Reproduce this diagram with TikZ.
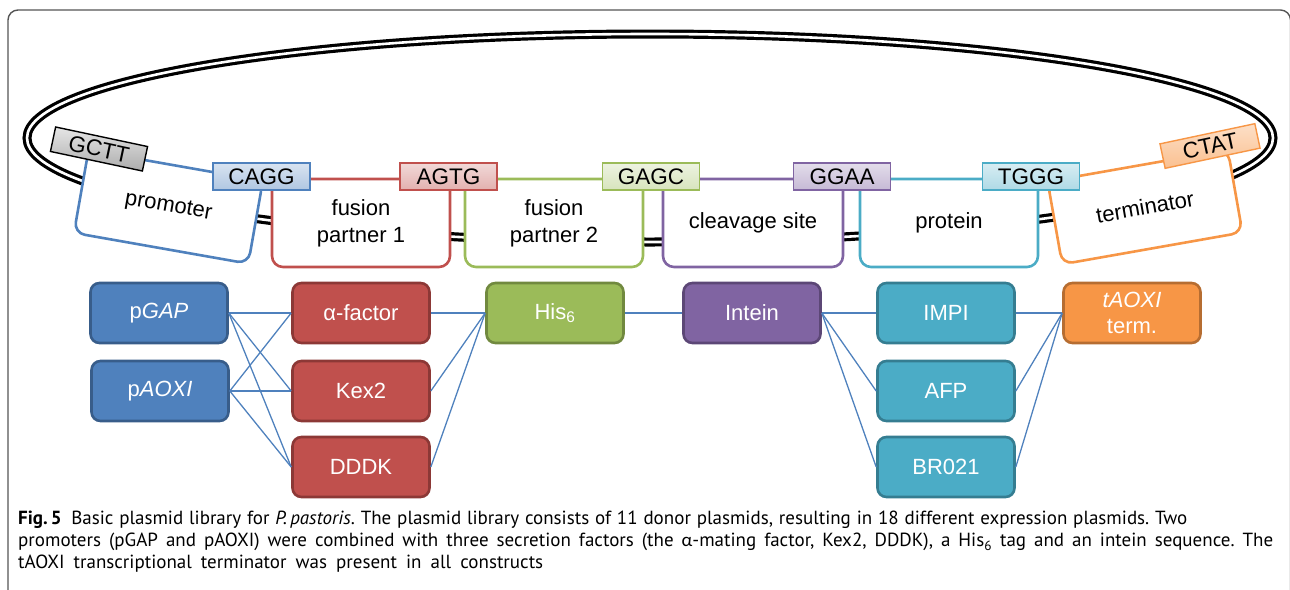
\documentclass[tikz,border=0pt]{standalone}
\usepackage{fontspec}
\setmainfont{Liberation Sans}
\newfontfamily\capfont{PT Sans}
\newfontfamily\grkfont{Carlito}
\frenchspacing

\definecolor{oBlue}{HTML}{4F81BD}
\definecolor{oBlueD}{HTML}{385D8A}
\definecolor{oRed}{HTML}{C0504D}
\definecolor{oRedD}{HTML}{8C3836}
\definecolor{oGreen}{HTML}{9BBB59}
\definecolor{oGreenD}{HTML}{71893F}
\definecolor{oPurple}{HTML}{8064A2}
\definecolor{oPurpleD}{HTML}{5C4776}
\definecolor{oTeal}{HTML}{4BACC6}
\definecolor{oTealD}{HTML}{357D91}
\definecolor{oOrange}{HTML}{F79646}
\definecolor{oOrangeD}{HTML}{B66D31}
\definecolor{frameGray}{HTML}{555555}

% one caption line spread to a given width
\newcommand\capline[2]{\makebox[#1][s]{#2}}

\tikzset{
  frame/.style={draw=frameGray, line width=1.4pt, rounded corners=10pt},
  backbone/.style={draw=black, line width=3.2pt, double=white, double distance=2.6pt},
  module/.style={draw, fill=white, line width=2.6pt, rounded corners=11pt,
    minimum width=178pt, minimum height=88pt, inner sep=0pt, align=center,
    font=\fontsize{22}{27}\selectfont},
  site/.style={draw, line width=1.4pt, minimum width=97pt, minimum height=27pt,
    inner sep=0pt, font=\fontsize{22.5}{26}\selectfont},
  part/.style={line width=2.6pt, rounded corners=9pt, minimum width=137pt,
    minimum height=60pt, inner sep=0pt, align=center, text=white,
    font=\fontsize{22}{26}\selectfont},
  link/.style={draw=oBlue, line width=1.3pt},
}

\begin{document}
\begin{tikzpicture}[x=1pt, y=-1pt]
\useasboundingbox (0,0) rectangle (1290,589);
\clip (0,0) rectangle (1290,589);

% outer figure frame (open at the bottom of the page)
\draw[frame] (8,10) rectangle (1290.5,660);

% plasmid backbone
\draw[backbone] (650,138) ellipse [x radius=623, y radius=104];

% expression cassette modules
\node[module, draw=oBlue, rotate=-10, minimum width=177pt, minimum height=84pt] (prom) at (168.4,206.9) {promoter};
\node[module, draw=oRed] (fp1) at (361,223) {fusion\\partner 1};
\node[module, draw=oGreen] (fp2) at (554,223) {fusion\\partner 2};
\node[module, draw=oPurple, minimum width=180pt] (cleave) at (753,223) {cleavage site};
\node[module, draw=oTeal] (prot) at (949,223) {protein};
\node[module, draw=oOrange, rotate=10, minimum width=183pt, minimum height=84pt] (term) at (1145,207) {terminator};

% overhang sites
\node[site, draw=black, top color=gray!20, bottom color=gray!65, rotate=-12,
      minimum width=94pt, minimum height=25pt] (gctt) at (99,149) {GCTT};
\node[site, draw=oBlue, top color=oBlue!22, bottom color=oBlue!45] (cagg) at (261.5,176.5) {CAGG};
\node[site, draw=oRed, top color=oRed!22, bottom color=oRed!45] (agtg) at (448.5,176.5) {AGTG};
\node[site, draw=oGreen, top color=oGreen!18, bottom color=oGreen!40] (gagc) at (651,176.5) {GAGC};
\node[site, draw=oPurple, top color=oPurple!22, bottom color=oPurple!45] (ggaa) at (842,176.5) {GGAA};
\node[site, draw=oTeal, top color=oTeal!22, bottom color=oTeal!45] (tggg) at (1031,176.5) {TGGG};
\node[site, draw=oOrange, top color=oOrange!30, bottom color=oOrange!60, rotate=12,
      minimum width=97pt, minimum height=25pt] (ctat) at (1210,146) {CTAT};

% donor plasmid parts
\node[part, fill=oBlue, draw=oBlueD] (pgap) at (159,313) {p\textit{GAP}};
\node[part, fill=oBlue, draw=oBlueD] (paox) at (160,391) {p\textit{AOXI}};
\node[part, fill=oRed, draw=oRedD] (afac) at (361,313) {α-factor};
\node[part, fill=oRed, draw=oRedD] (kex) at (361,391) {Kex2};
\node[part, fill=oRed, draw=oRedD] (dddk) at (361,467) {DDDK};
\node[part, fill=oGreen, draw=oGreenD] (his) at (555,313) {His\textsubscript{6}};
\node[part, fill=oPurple, draw=oPurpleD] (intein) at (752,313) {Intein};
\node[part, fill=oTeal, draw=oTealD] (impi) at (946,313) {IMPI};
\node[part, fill=oTeal, draw=oTealD] (afp) at (946,391) {AFP};
\node[part, fill=oTeal, draw=oTealD] (br) at (946,467) {BR021};
\node[part, fill=oOrange, draw=oOrangeD] (taox) at (1132,313) {\textit{tAOXI}\\term.};

% combinations
\foreach \p in {pgap,paox}
  \foreach \s in {afac,kex,dddk}
    \draw[link] (\p.east) -- (\s.west);
\foreach \s in {afac,kex,dddk}
  \draw[link] (\s.east) -- (his.west);
\draw[link] (his.east) -- (intein.west);
\foreach \t in {impi,afp,br}
  \draw[link] (intein.east) -- (\t.west);
\foreach \t in {impi,afp,br}
  \draw[link] (\t.east) -- (taox.west);

% caption
\node[anchor=north west, align=left, inner sep=0pt,
      font=\capfont\fontsize{19}{22}\selectfont] (cap) at (18,511)
  {\capline{1169pt}{\textbf{Fig.\,5}\enspace Basic plasmid library for \textit{P.\,pastoris}. The plasmid library consists of 11 donor plasmids, resulting in 18 different expression plasmids. Two}\\
   \capline{1255pt}{promoters (pGAP and pAOXI) were combined with three secretion factors (the {\grkfont α}-mating factor, Kex2, DDDK), a His\textsubscript{6} tag and an intein sequence. The}\\
   \capline{525pt}{tAOXI transcriptional terminator was present in all constructs}};
\end{tikzpicture}
\end{document}
